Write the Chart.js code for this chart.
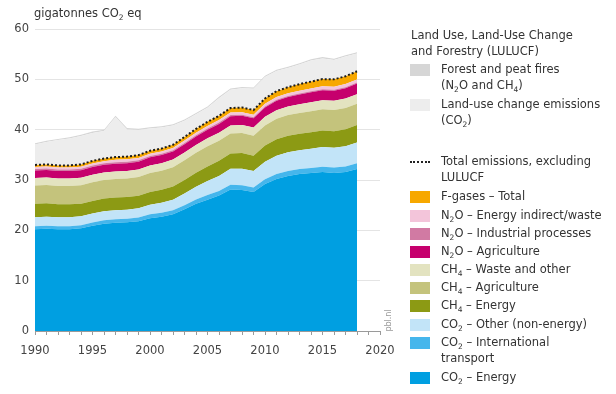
<!DOCTYPE html>
<html><head><meta charset="utf-8">
<script src="https://cdn.jsdelivr.net/npm/chart.js@4"></script>
<style>
html,body{margin:0;padding:0;background:#fff;width:616px;height:394px;overflow:hidden;font-family:"DejaVu Sans",sans-serif;color:#333}
#c{position:absolute;left:0;top:0}
#ytitle{position:absolute;left:34px;top:6px;font-size:11.5px;color:#333;white-space:nowrap}
sub{font-size:7.5px;vertical-align:-3px;line-height:0}
#legend{position:absolute;left:0;top:0;width:616px;height:394px;pointer-events:none}
.txt{position:absolute;left:441px;font-size:11.5px;line-height:15.5px;color:#333;white-space:nowrap}
.hdr{position:absolute;left:411px;font-size:11.5px;line-height:16px;color:#333;white-space:nowrap}
.sw{position:absolute;left:410px;width:20px;height:12px}
.dot{position:absolute;left:410px;width:20px;height:0;border-top:2px dotted #222}
#pbl{position:absolute;left:377px;top:316px;font-size:8px;color:#9a9a9a;transform:rotate(-90deg);transform-origin:center}
</style></head>
<body>
<canvas id="c" width="410" height="394"></canvas>
<div id="ytitle">gigatonnes CO<sub>2</sub> eq</div>
<div id="pbl">pbl.nl</div>
<div id="legend"></div>
<script>
// ---- data (gigatonnes CO2 eq) ----
const years = [1990,1991,1992,1993,1994,1995,1996,1997,1998,1999,2000,2001,2002,2003,2004,2005,2006,2007,2008,2009,2010,2011,2012,2013,2014,2015,2016,2017,2018];
const co2Energy     = [20.2,20.3,20.2,20.2,20.4,20.9,21.3,21.5,21.6,21.8,22.4,22.7,23.2,24.2,25.3,26.1,26.9,28.1,28.0,27.6,29.2,30.2,30.8,31.2,31.4,31.6,31.4,31.6,32.2];
const co2Intl       = [0.6,0.6,0.6,0.6,0.6,0.65,0.7,0.7,0.7,0.75,0.8,0.8,0.8,0.8,0.85,0.9,0.9,0.95,0.95,0.9,0.95,1.0,1.0,1.0,1.0,1.05,1.1,1.1,1.15];
const co2Other      = [1.8,1.8,1.8,1.8,1.8,1.8,1.8,1.8,1.8,1.85,1.9,2.0,2.1,2.3,2.5,2.8,3.0,3.2,3.3,3.3,3.5,3.6,3.7,3.7,3.8,3.9,3.9,4.0,4.1];
const ch4Energy     = [2.7,2.7,2.6,2.6,2.5,2.5,2.5,2.5,2.5,2.45,2.5,2.55,2.6,2.7,2.8,2.9,3.0,3.0,3.1,3.0,3.2,3.3,3.3,3.3,3.3,3.3,3.3,3.4,3.5];
const ch4Agri       = [3.6,3.6,3.6,3.6,3.65,3.7,3.7,3.7,3.7,3.75,3.8,3.8,3.85,3.9,3.95,4.0,4.0,4.0,4.0,4.0,4.0,4.05,4.1,4.1,4.15,4.2,4.2,4.2,4.2];
const ch4Waste      = [1.5,1.5,1.5,1.5,1.5,1.5,1.5,1.5,1.5,1.5,1.5,1.5,1.5,1.55,1.55,1.6,1.6,1.6,1.6,1.65,1.7,1.7,1.7,1.75,1.8,1.8,1.85,1.9,1.9];
const n2oAgri       = [1.5,1.5,1.5,1.5,1.5,1.55,1.55,1.55,1.55,1.55,1.6,1.6,1.6,1.65,1.7,1.7,1.75,1.8,1.8,1.8,1.85,1.9,1.9,1.95,2.0,2.0,2.0,2.05,2.1];
const n2oIndustrial = [0.3,0.3,0.3,0.3,0.3,0.3,0.3,0.3,0.3,0.25,0.25,0.25,0.25,0.25,0.25,0.25,0.25,0.25,0.2,0.2,0.2,0.2,0.2,0.2,0.2,0.2,0.2,0.2,0.2];
const n2oIndirect   = [0.4,0.4,0.4,0.4,0.4,0.4,0.4,0.45,0.45,0.45,0.45,0.45,0.45,0.5,0.5,0.5,0.5,0.5,0.5,0.5,0.55,0.55,0.55,0.55,0.55,0.6,0.6,0.6,0.6];
const fGases        = [0.4,0.4,0.4,0.4,0.45,0.5,0.5,0.55,0.55,0.6,0.6,0.6,0.65,0.7,0.75,0.8,0.85,0.9,0.95,0.95,1.05,1.15,1.2,1.3,1.35,1.4,1.45,1.55,1.65];
const landUseChange = [4.05,4.45,5.05,5.35,5.65,5.55,5.5,7.9,5.4,5.0,4.45,4.2,3.85,3.2,2.9,2.8,3.5,3.65,3.85,4.25,4.25,4.0,3.8,3.9,4.2,4.1,3.85,3.95,3.55];
const forestFires   = [0.25,0.25,0.2,0.25,0.25,0.3,0.25,0.3,0.3,0.25,0.25,0.25,0.25,0.25,0.25,0.25,0.3,0.25,0.25,0.25,0.25,0.25,0.25,0.25,0.25,0.3,0.25,0.25,0.25];
const yTicks = [0,10,20,30,40,50,60];
const xLabelYears = [1990,1995,2000,2005,2010,2015,2020];

// ---- series (bottom to top) ----
const stackSeries = [
  {name:'CO<sub>2</sub> – Energy', data:co2Energy, color:'#009fe1'},
  {name:'CO<sub>2</sub> – International<br>transport', data:co2Intl, color:'#45b6ec'},
  {name:'CO<sub>2</sub> – Other (non-energy)', data:co2Other, color:'#c2e4f8'},
  {name:'CH<sub>4</sub> – Energy', data:ch4Energy, color:'#8c9a14'},
  {name:'CH<sub>4</sub> – Agriculture', data:ch4Agri, color:'#c4c37c'},
  {name:'CH<sub>4</sub> – Waste and other', data:ch4Waste, color:'#e3e3c0'},
  {name:'N<sub>2</sub>O – Agriculture', data:n2oAgri, color:'#c6006d'},
  {name:'N<sub>2</sub>O – Industrial processes', data:n2oIndustrial, color:'#d17aa3'},
  {name:'N<sub>2</sub>O – Energy indirect/waste', data:n2oIndirect, color:'#f3c5da'},
  {name:'F-gases – Total', data:fGases, color:'#f7a800'},
  {name:'Land-use change emissions<br>(CO<sub>2</sub>)', data:landUseChange, color:'#ededed'},
  {name:'Forest and peat fires<br>(N<sub>2</sub>O and CH<sub>4</sub>)', data:forestFires, color:'#d6d6d6'}
];
const nonLulucf = stackSeries.slice(0,10);
const totalExclLulucf = years.map((_,i)=> nonLulucf.reduce((s,d)=>s+d.data[i],0));

const pts = arr => years.map((y,i)=>({x:y,y:arr[i]}));
const datasets = [{
  label:'Total emissions, excluding LULUCF', data:pts(totalExclLulucf), yAxisID:'yT',
  borderColor:'#1e1e1e', borderWidth:2, borderDash:[2,2], pointRadius:0, fill:false, tension:0
}];
stackSeries.forEach((s,i)=>{
  datasets.push({label:s.name, data:pts(s.data), yAxisID:'y', backgroundColor:s.color, borderColor:s.color,
    borderWidth:0, pointRadius:0, tension:0, fill: i===0 ? 'origin' : '-1'});
});

new Chart(document.getElementById('c'), {
  type:'line',
  data:{datasets},
  options:{
    responsive:false, animation:false, devicePixelRatio:1,
    layout:{padding:{left:0,top:29,right:30,bottom:0}},
    plugins:{legend:{display:false}, tooltip:{enabled:false}},
    scales:{
      x:{type:'linear', min:1990, max:2020,
        ticks:{stepSize:1, autoSkip:false, maxRotation:0, padding:9, color:'#444',
          font:{family:'DejaVu Sans', size:11.5},
          callback:v => xLabelYears.includes(v) ? String(v) : ''},
        grid:{drawOnChartArea:false, drawTicks:true, tickLength:4, color:'#9a9a9a'},
        border:{display:true, color:'#9a9a9a', width:1},
        afterFit(s){ s.height = 63; }
      },
      y:{stacked:true, min:0, max:60,
        afterBuildTicks(s){ s.ticks = yTicks.map(v=>({value:v})); },
        ticks:{padding:6, color:'#444', font:{family:'DejaVu Sans', size:11.5}},
        grid:{color:'#e4e4e4', drawTicks:false},
        border:{display:false},
        afterFit(s){ s.width = 35; }
      },
      yT:{display:false, min:0, max:60, stacked:false}
    }
  }
});

// ---- legend ----
const lg = document.getElementById('legend');
function add(cls, top, html, extra){ const d=document.createElement('div'); d.className=cls; d.style.top=top+'px'; if(html) d.innerHTML=html; if(extra) Object.assign(d.style, extra); lg.appendChild(d); return d; }
add('hdr', 27, 'Land Use, Land-Use Change<br>and Forestry (LULUCF)');
const rows = [
  {s:stackSeries[11], y:70},
  {s:stackSeries[10], y:105},
  {line:true, name:'Total emissions, excluding<br>LULUCF', y:162},
  {s:stackSeries[9], y:197},
  {s:stackSeries[8], y:216},
  {s:stackSeries[7], y:234},
  {s:stackSeries[6], y:252},
  {s:stackSeries[5], y:270},
  {s:stackSeries[4], y:288},
  {s:stackSeries[3], y:306},
  {s:stackSeries[2], y:325},
  {s:stackSeries[1], y:343},
  {s:stackSeries[0], y:378}
];
rows.forEach(r=>{
  if(r.line){ add('dot', r.y-1); add('txt', r.y-8, r.name); }
  else { add('sw', r.y-6, '', {background:r.s.color}); add('txt', r.y-8, r.s.name); }
});
</script>
</body></html>
